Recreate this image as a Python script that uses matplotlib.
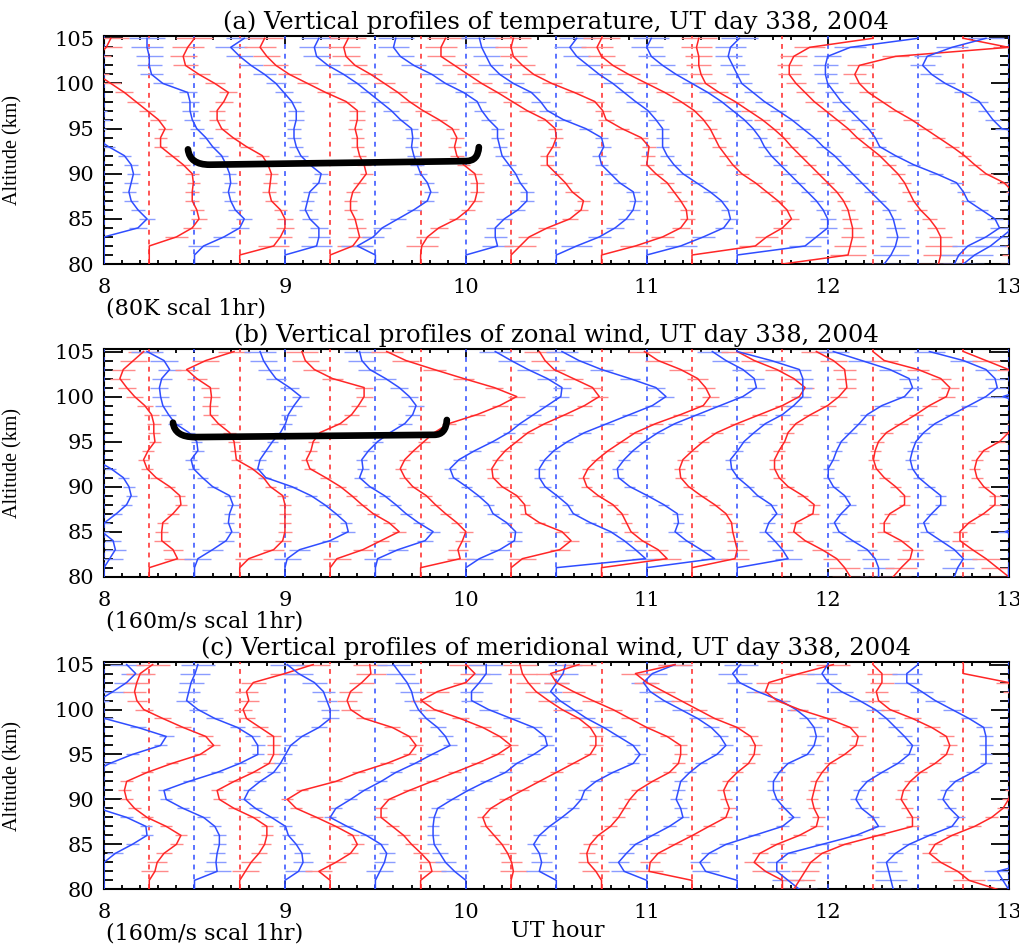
import numpy as np
import matplotlib
matplotlib.use("Agg")
import matplotlib.pyplot as plt
from matplotlib.path import Path
from matplotlib.patches import PathPatch
from matplotlib.ticker import MultipleLocator

# ---------------------------------------------------------------------------
# Lidar profiles, UT day 338, 2004 -- one profile every 15 minutes.
# Values are perturbations on the altitude grid 80..105 km (1 km step);
# 0 marks levels without data (drawn on the profile's own baseline).
# ---------------------------------------------------------------------------
altitude_km = np.arange(80, 106)
profile_hours = [8.0, 8.25, 8.5, 8.75, 9.0, 9.25, 9.5, 9.75, 10.0, 10.25, 10.5,
                 10.75, 11.0, 11.25, 11.5, 11.75, 12.0, 12.25, 12.5, 12.75, 13.0]

# temperature perturbation (K), 80 K = 1 hr
temp_0800 = [0, 0, 0, 0, 15, 19, 15, 12, 11, 12, 13, 12, 9, 2, -4, -2, -1, -2, -5, -12, -18, -22, -25, -27, -28, -28]
temp_0815 = [0, 0, 0, 12, 19, 22, 21, 19, 19, 19.5, 19, 15, 10, 5, 5, 7, 4, -1, -6, -11, -17, -23, -26, -23, -19, -17]
temp_0830 = [0, 0, 4, 13, 20, 22, 18, 16, 15, 16, 15.5, 14, 12, 8, 5, 1, -1, -2, -2, -3, -14, -19, -20, -20, -21, -21]
temp_0845 = [0, 0, 15, 18, 20, 20, 18, 14, 13, 13.5, 14, 12.5, 10, 3, -3, -8, -10, -10, -7, -5, -11, -18, -24, -25, -23, -20]
temp_0900 = [0, 0, 14, 15, 15, 11, 9, 10, 11, 15, 16, 11, 7, 5, 4, 4, 5, 5, 3, -0.5, -4, -9, -15, -20, -24, -18]
temp_0915 = [0, 0, 10, 13, 12, 11, 9, 9, 10, 13, 16, 15, 13, 12, 12, 11, 12, 12, 7, -2, -10, -18, -24, -28, -31, -29]
temp_0930 = [0, 0, -8, -1, 3, 10, 17, 23, 24.5, 23, 20, 18.5, 17, 16, 16.5, 16, 11, 7, 2, -3, -8, -14, -21, -26, -27, -25]
temp_0945 = [0, 0, 0.5, 3, 8, 16, 21, 24, 25, 25, 24, 19, 16, 15, 16, 14, 8, 1, -5, -10, -16, -22, -29, -33, -34, -32]
temp_1000 = [0, 0, 14, 13, 13, 17, 23, 27, 27, 24, 22, 19, 16, 15, 14, 14, 10, 7, 5, -1, -9, -15, -23, -29, -32, -31]
temp_1015 = [0, 0, 4, 8, 16, 26, 31, 32, 27, 24, 20, 16, 16, 18.5, 20, 19.5, 15, 7, 0.5, -6, -13, -19, -25, -31, -31, -29]
temp_1030 = [0, 0, 9, 19, 26, 31, 34, 35, 34, 28, 24, 20, 19, 21, 20, 13, 3, -4, -7, -11, -19, -25, -29, -31, -33, -34]
temp_1045 = [0, 0, 15, 27, 35, 38, 37.5, 35, 32, 29, 24, 20, 20.5, 21, 17.5, 9, 2, 0.5, -3, -12, -22, -30, -35, -39, -40, -39]
temp_1100 = [0, 0, 15, 25, 34, 37, 36, 33, 28, 22, 16, 12, 9, 7, 7, 7, 4, 0.5, -5, -10, -15, -21, -26, -31, -34, -31]
temp_1115 = [0, 0, 28, 33, 40, 44, 42, 38, 33, 28, 22, 18, 15, 12, 10, 8, 5, 1, -5, -12, -20, -28, -35, -40, -42, -40]
temp_1130 = [0, 0, 30, 35, 40, 40, 38, 35, 31, 27, 23, 19, 15, 12, 10, 7, 3, -2, -7, -13, -20, -27, -33, -38, -40, -38]
temp_1145 = [0, 29, 30, 31, 31, 30, 29, 27, 24, 20, 16, 12, 8, 4, 0.5, -4, -9, -15, -21, -28, -34, -36, -37, -37, -38, -37]
temp_1200 = [25, 28, 30, 31, 30, 29, 27, 23, 19, 15, 11, 7, 3, -2, -6, -11, -16, -22, -28, -33, -38, -40, -42, -44, -43, -39]
temp_1215 = [29, 30, 30, 30, 28, 25, 21, 18, 16, 14, 11, 7, 3, -2, -7, -11, -16, -21, -26, -30, -34, -37, -37, -35, -28, 0]
temp_1230 = [16, 18, 22, 30, 36, 34, 28, 22, 20, 17, 8, -2, -10, -17, -19, -22, -26, -30, -34, -37, -40, -41, -41, -40, -30, 0]
temp_1245 = [25, 25, 25, 25, 25, 25, 25, 24, 22, 18, 10, 5, 0.5, -5, -11, -17, -23, -30, -36, -42, -46, -48, -46, -30, 20, 0]
temp_1300 = [-20, -15, -8, -3, 2, 20, 20, 20, 20, 20, 20, 20, 20, 20, 20, -3, -7, -10, -13, -20, -28, -34, -38, -36, -25, -10]
temp_err = [9, 8, 7, 5, 4, 3.5, 3, 3, 3, 3, 3, 3, 3, 3, 3, 3, 3.5, 3.5, 4, 4, 4.5, 5, 5.5, 6, 7, 8]

# zonal wind perturbation (m/s), 160 m/s = 1 hr
zonal_0800 = [0, 0, 5, 10, 8, -2, 0.5, 11, 20, 24, 22, 17, 6, -8, -20, -25, -25, -25, -25, -25, -25, -25, -25, -25, -25, -25]
zonal_0815 = [0, 0, 25, 21, 11, 11, 12, 21, 28, 27, 18, 6, -2, -5, -1, 5, 4, 4, 2, -4, -13, -20, -26, -23, -14, -5]
zonal_0830 = [0, 0, 3, 16, 28, 33, 30, 31, 34, 31, 16, 7, -1, -3, 3, 2, -5, -17, -23, -28, -30, -31, -29, -22, -27, -42]
zonal_0845 = [0, 0, 8, 30, 38, 40, 40, 40, 40, 38, 27, 21, 11, -3, -4, -5, -9, -19, -26, -26, -25, -26, -38, -47, -30, -5]
zonal_0900 = [0, 0, 2, 13, 40, 56, 54, 45, 35, 23, 6, -17, -24, -22, -16.5, -11, -4, 0.5, 3, 8, 14, 4, -8, -14, -19, -22]
zonal_0915 = [0, 0, 6, 29, 45, 61, 52, 38, 28, 19, 9, -4, -18, -21, -17, -15, -9, 9, 19, 25, 30, 30, 2, -14, -22, -25]
zonal_0930 = [0, 0, 2, 20, 44, 51, 38, 27, 18, 8, -5, -14, -11, -12, -6, 2, 13, 26, 33, 36, 30, 21, 9, -5, -12, -14]
zonal_0945 = [0, 0, 35, 33, 37, 40, 32, 22, 13, 5, -7, -14, -18, -14, -6, 3, 12, 25, 50, 70, 85, 65, 38, 12, -13, -30]
zonal_1000 = [0, 0, 12, 30, 43, 44, 36, 24, 20, 11, 0.5, -11, -14, -6, 8, 24, 38, 48, 60, 72, 84, 85, 72, 55, 40, 26]
zonal_1015 = [0, 0, 10, 43, 53, 45, 25, 13, 12, 5, -8, -16, -17, -12, -5, 5, 15, 30, 48, 65, 78, 72, 55, 38, 30, 25]
zonal_1030 = [0, 0, 79, 70, 60, 48, 30, 15, 10, 0.5, -10, -15, -15, -10, -2, 10, 25, 45, 65, 85, 97, 88, 65, 40, 20, 5]
zonal_1045 = [0, 0, 58, 50, 36, 26, 22, 18, 10, -3, -13, -16, -12, -4, 6, 18, 30, 48, 70, 90, 96, 92, 85, 70, 50, 38]
zonal_1100 = [0, 0, 60, 48, 35, 25, 28, 27, 15, 0.5, -15, -25, -26, -20, -12, -2, 10, 25, 45, 65, 85, 97, 95, 85, 70, 58]
zonal_1115 = [0, 0, 38, 40, 38, 36, 35, 30, 20, 8, -3, -10, -11, -8, 0.5, 10, 22, 40, 60, 80, 95, 100, 90, 75, 55, 40]
zonal_1130 = [0, 0, 45, 40, 33, 25, 28, 35, 30, 18, 10, 0.5, -5, -6, 0.5, 6, 15, 25, 40, 50, 58, 58, 58, 55, 30, 0]
zonal_1145 = [60, 55, 48, 35, 20, 10, 12, 27, 28, 18, 5, -3, -7, -7, -3, 2, 5, 12, 25, 40, 50, 57, 56, 55, 45, 30]
zonal_1200 = [45, 45, 42, 35, 22, 10, 6, 12, 20, 15, 5, 0.5, 0.5, 5, 8, 12, 20, 28, 35, 48, 68, 75, 72, 55, 30, 5]
zonal_1215 = [18, 25, 33, 35, 25, 10, 10, 15, 28, 28, 20, 10, 3, 0.5, 2, 5, 12, 25, 38, 50, 65, 68, 60, 40, 10, 0]
zonal_1230 = [32, 35, 40, 32, 20, 8, 5, 12, 20, 20, 10, 0.5, -5, -7, -5, -2, 5, 15, 30, 45, 60, 70, 68, 60, 40, 10]
zonal_1245 = [40, 30, 20, 8, -3, -3, 5, 18, 28, 28, 18, 12, 10, 12, 18, 32, 40, 45, 48, 50, 50, 50, 50, 40, 20, 0]
zonal_1300 = [0, 0, 20, 20, 20, -3, 20, 20, 20, 20, 20, 20, 20, 20, 20, 20, 20, 20, 20, 20, -5, 20, 20, 20, 20, 20]
zonal_err = [16, 14, 12, 9, 7, 6, 5, 5, 5, 5, 5, 5, 5, 5, 5, 5, 5.5, 6, 6.5, 7, 7.5, 8, 9, 10, 12, 14]

# meridional wind perturbation (m/s), 160 m/s = 1 hr
merid_0800 = [0, 0, 0, 0, 10, 25, 38, 37, 20, -5, -25, -30, -25, -10, 5, 25, 50, 55, 30, 0.5, -20, -5, 8, 20, 28, 20]
merid_0815 = [0, 0, 5, 7, 13, 24, 28, 15, -2, -13, -20, -22, -20, -2, 20, 45, 57, 50, 30, 12, -5, -11, -13, -11, -8, 3]
merid_0830 = [0, 0, 20, 19, 20, 22, 22, 18, 8, -10, -25, -27, -5, 20, 40, 56, 56, 51, 38, 18, 3, -7, -5, -3, 0.5, 3]
merid_0845 = [0, 0, 5, 10, 17, 22, 24, 24, 12, -5, -18, -20, -5, 12, 26, 30, 30, 30, 18, 6, 3, 8, 6, 12, 40, 65]
merid_0900 = [0, 0, 12, 16, 15, 10, 3, 0.5, -12, -26, -36, -32, -22, -10, -4, 0.5, 5, 15, 30, 40, 40, 37, 34, 26, 12, 2]
merid_0915 = [0, 0, -10, 5, 18, 24, 20, 5, -12, -30, -38, -25, 5, 25, 50, 70, 76, 70, 55, 30, 18, 15, 18, 28, 36, 35]
merid_0930 = [0, 0, 4, 8, 10, 5, -8, -25, -40, -35, -22, -10, 5, 18, 35, 50, 66, 62, 55, 45, 38, 34, 32, 28, 22, 16]
merid_0945 = [0, 0, 10, 8, 0.5, -8, -15, -25, -35, -35, -28, -10, 10, 30, 50, 68, 80, 70, 55, 35, 12, 0.5, 15, 40, 48, 40]
merid_1000 = [0, 0, -10, -18, -23, -28, -29, -29, -28, -25, -12, 2, 18, 35, 45, 60, 72, 70, 60, 40, 20, 5, 5, 12, 18, 18]
merid_1015 = [0, 0, 2, 0.5, -3, -8, -15, -22, -25, -18, -5, 10, 25, 40, 55, 70, 75, 75, 70, 60, 45, 33, 22, 15, 10, 8]
merid_1030 = [0, 0, -15, -13, -15, -20, -15, -6, 5, 15, 22, 25, 35, 50, 68, 74, 68, 55, 42, 27, 15, 3, -5, 0.5, 6, 8]
merid_1045 = [0, 0, -5, -12, -13, -10, -3, 8, 15, 20, 25, 32, 45, 60, 68, 70, 70, 58, 40, 25, 10, -8, -25, -40, -45, -20]
merid_1100 = [0, 0, -20, -25, -18, -10, 5, 20, 32, 30, 26, 28, 30, 38, 48, 62, 70, 65, 57, 45, 30, 15, 3, -3, 5, 25]
merid_1115 = [0, 0, -38, -37, -30, -15, 0.5, 15, 30, 33, 30, 28, 32, 40, 50, 55, 56, 52, 40, 20, 5, -10, -25, -40, -50, -15]
merid_1130 = [0, 0, -28, -33, -25, -10, 15, 40, 50, 42, 35, 32, 32, 37, 45, 62, 68, 70, 68, 62, 52, 38, 18, 2, -4, 3]
merid_1145 = [0, 0, -15, -25, -20, -5, 15, 30, 32, 28, 26, 28, 30, 35, 42, 55, 65, 67, 60, 40, 15, -5, -15, -12, 15, 45]
merid_1200 = [-25, -35, -45, -45, -35, -5, 25, 45, 40, 30, 25, 28, 35, 48, 62, 72, 75, 68, 60, 52, 42, 28, 12, 0.5, -5, 0]
merid_1215 = [-70, -65, -60, -55, -45, -25, 5, 35, 35, 30, 25, 27, 33, 42, 55, 65, 68, 65, 52, 35, 15, 5, 3, 8, 8, 0]
merid_1230 = [-22, -24, -26, -28, -20, -8, 10, 30, 36, 28, 22, 25, 33, 48, 60, 60, 60, 60, 58, 45, 30, 15, 3, -10, -10, 0]
merid_1245 = [30, 5, -5, -20, -30, -25, -10, 10, 25, 35, 40, 42, 45, 45, 45, 50, 55, 55, 55, 55, 55, 50, 45, 40, 0, 0]
merid_1300 = [0, -5, -10, 20, 20, 20, 20, 20, 20, 20, 20, 20, 20, 20, 20, 20, 20, 20, 20, 20, 20, 20, 20, 20, 20, 0]
merid_err = [16, 14, 12, 9, 7, 6, 5.5, 5.5, 5.5, 5.5, 5.5, 5.5, 5.5, 5.5, 5.5, 5.5, 6, 6.5, 7, 7.5, 8, 9, 10, 11, 13, 15]

temp_profiles = [temp_0800, temp_0815, temp_0830, temp_0845, temp_0900, temp_0915, temp_0930,
                 temp_0945, temp_1000, temp_1015, temp_1030, temp_1045, temp_1100, temp_1115,
                 temp_1130, temp_1145, temp_1200, temp_1215, temp_1230, temp_1245, temp_1300]
zonal_profiles = [zonal_0800, zonal_0815, zonal_0830, zonal_0845, zonal_0900, zonal_0915, zonal_0930,
                  zonal_0945, zonal_1000, zonal_1015, zonal_1030, zonal_1045, zonal_1100, zonal_1115,
                  zonal_1130, zonal_1145, zonal_1200, zonal_1215, zonal_1230, zonal_1245, zonal_1300]
merid_profiles = [merid_0800, merid_0815, merid_0830, merid_0845, merid_0900, merid_0915, merid_0930,
                  merid_0945, merid_1000, merid_1015, merid_1030, merid_1045, merid_1100, merid_1115,
                  merid_1130, merid_1145, merid_1200, merid_1215, merid_1230, merid_1245, merid_1300]

panel_titles = ["(a) Vertical profiles of temperature, UT day 338, 2004",
                "(b) Vertical profiles of zonal wind, UT day 338, 2004",
                "(c) Vertical profiles of meridional wind, UT day 338, 2004"]
scale_notes = ["(80K scal 1hr)", "(160m/s scal 1hr)", "(160m/s scal 1hr)"]
scale_per_hour = [80.0, 160.0, 160.0]

# highlighted wave-front brackets: (left hour, right hour, left base, right base, left tip, right tip)
bracket_a = (8.464, 10.072, 91.0, 91.4, 92.7, 92.95)
bracket_b = (8.381, 9.895, 95.5, 95.75, 97.1, 97.4)

RED, BLUE = "#ff2626", "#2f4dff"
RED_ERR, BLUE_ERR = "#ff8a8a", "#8a9cff"

SERIF = "DejaVu Serif"
plt.rcParams["font.family"] = SERIF

fig = plt.figure(figsize=(10.2, 9.46), dpi=100)
left, width = 0.1020, 0.8868
panel_boxes = [(0.7209, 0.2410), (0.3904, 0.2404), (0.0599, 0.2400)]


def draw_bracket(ax, spec):
    x0, x1, yb0, yb1, yt0, yt1 = spec
    dx0 = 0.12
    dx1 = 0.07
    verts = [(x0, yt0), (x0 + 0.01, yb0), (x0 + dx0, yb0),
             (x1 - dx1, yb1),
             (x1 - 0.005, yb1), (x1, yt1)]
    codes = [Path.MOVETO, Path.CURVE3, Path.CURVE3,
             Path.LINETO,
             Path.CURVE3, Path.CURVE3]
    ax.add_patch(PathPatch(Path(verts, codes), facecolor="none", edgecolor="black",
                           lw=4.8, capstyle="round", joinstyle="round", zorder=10))


axes = []
for k, (bottom, height) in enumerate(panel_boxes):
    ax = fig.add_axes([left, bottom, width, height])
    axes.append(ax)
    profiles = [temp_profiles, zonal_profiles, merid_profiles][k]
    errs = np.asarray([temp_err, zonal_err, merid_err][k], float)
    scale = scale_per_hour[k]
    for i, (t, vals) in enumerate(zip(profile_hours, profiles)):
        vals = np.asarray(vals, float)
        blue = (i % 2 == 0)
        col = BLUE if blue else RED
        ecol = BLUE_ERR if blue else RED_ERR
        ax.axvline(t, color=col, lw=1.1, ls=(0, (3.2, 3.2)), zorder=3)
        x = t + vals / scale
        xerr = np.where(vals == 0, 0.0, errs) / scale
        ax.errorbar(x, altitude_km, xerr=xerr, fmt="none", ecolor=ecol,
                    elinewidth=1.0, capsize=0, zorder=3.2)
        ax.plot(x, altitude_km, color=col, lw=1.1, zorder=3.5)

    ax.set_xlim(8, 13)
    ax.set_ylim(80, 105.25)
    ax.xaxis.set_major_locator(MultipleLocator(1))
    ax.xaxis.set_minor_locator(MultipleLocator(0.1))
    ax.yaxis.set_major_locator(MultipleLocator(5))
    ax.yaxis.set_minor_locator(MultipleLocator(1))
    ax.tick_params(which="both", direction="in", top=True, right=True, width=1.3)
    ax.tick_params(axis="y", which="major", length=13, pad=7, labelsize=15)
    ax.tick_params(axis="y", which="minor", length=6.5)
    ax.tick_params(axis="x", which="major", length=6, pad=10, labelsize=15)
    ax.tick_params(axis="x", which="minor", length=3)
    for s in ax.spines.values():
        s.set_linewidth(1.5)
    ax.set_title(panel_titles[k], fontsize=17.5, pad=5)
    ax.set_ylabel("Altitude (km)", family="Liberation Serif", fontsize=14.5)
    ax.yaxis.set_label_coords(-0.0905, 0.5)
    ax.text(0.002, -0.148, scale_notes[k], transform=ax.transAxes,
            ha="left", va="top", fontsize=16)

draw_bracket(axes[0], bracket_a)
draw_bracket(axes[1], bracket_b)

fig.text(0.5465, 0.004, "UT hour", ha="center", va="bottom", fontsize=16)

fig.savefig("out.png", dpi=100)
